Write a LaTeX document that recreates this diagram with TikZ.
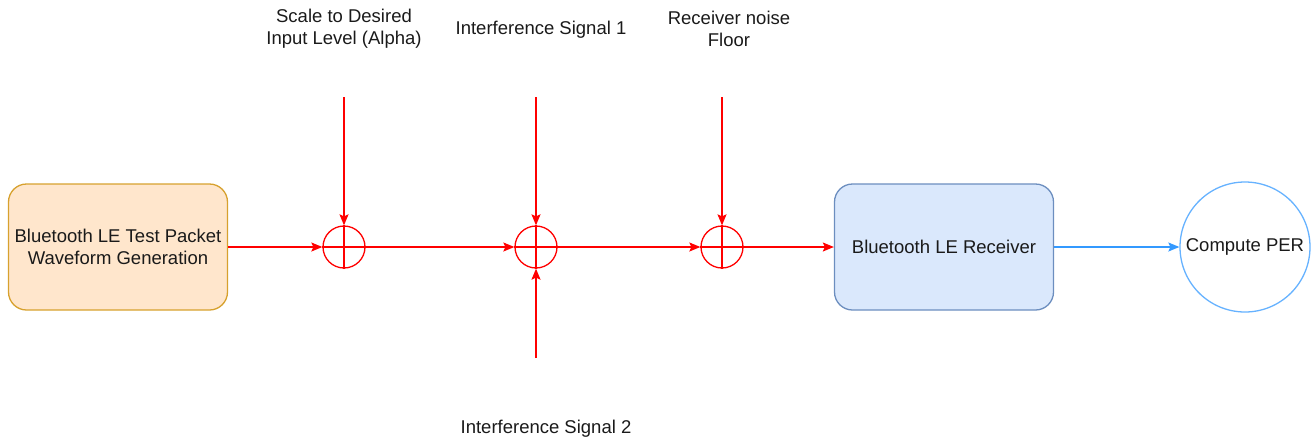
\documentclass[tikz,border=0pt]{standalone}
\usepackage{fontspec}
\setmainfont{Liberation Sans}
\usetikzlibrary{arrows.meta}
\definecolor{redline}{HTML}{FF0000}
\definecolor{orfill}{HTML}{FFE6CC}
\definecolor{ordraw}{HTML}{D7A12E}
\definecolor{blfill}{HTML}{DAE8FC}
\definecolor{bldraw}{HTML}{6C8EBF}
\definecolor{bllink}{HTML}{3399FF}
\definecolor{blcirc}{HTML}{66B2FF}
\definecolor{txt}{HTML}{1A1A1A}
\tikzset{
  block/.style={rounded corners=18, minimum width=219, minimum height=126, line width=1.3, align=center, inner sep=0},
  summer/.style={circle, draw=redline, line width=1.3, minimum size=42, inner sep=0},
  redarrow/.style={draw=redline, line width=1.3, -{Stealth[length=11, width=9, inset=2]}},
  bluearrow/.style={draw=bllink, line width=1.3, -{Stealth[length=11, width=9, inset=2]}},
  lbl/.style={align=center, inner sep=0, text=txt},
}
\begin{document}
\begin{tikzpicture}[x=1pt, y=-1pt, font=\fontsize{18.5}{22}\selectfont, text=txt]
\useasboundingbox (0,0) rectangle (1312,440);
\node[block, fill=orfill, draw=ordraw] (gen) at (118,247) {Bluetooth LE Test Packet\\Waveform Generation};
\node[block, fill=blfill, draw=bldraw] (rx) at (944,247) {Bluetooth LE Receiver};
\node[circle, draw=blcirc, line width=1.3, minimum size=130, inner sep=0] (per) at (1245,247) {Compute PER};
\node[summer] (s1) at (344,247) {};
\node[summer] (s2) at (536,247) {};
\node[summer] (s3) at (722,247) {};
\foreach \s in {s1,s2,s3}{
  \draw[redline, line width=1.3] (\s.north) -- (\s.south) (\s.west) -- (\s.east);
}
\coordinate (t1) at (344,97);
\coordinate (t2) at (536,97);
\coordinate (t3) at (722,97);
\coordinate (b2) at (536,358);
\node[lbl] (l1) at (344,29) {Scale to Desired\\Input Level (Alpha)};
\node[lbl] (l2) at (541,30) {Interference Signal 1};
\node[lbl] (l3) at (729,29) {Receiver noise\\Floor};
\node[lbl] (l4) at (546,429) {Interference Signal 2};
\draw[redarrow] (gen.east) -- (s1.west);
\draw[redarrow] (s1.east) -- (s2.west);
\draw[redarrow] (s2.east) -- (s3.west);
\draw[redarrow] (s3.east) -- (rx.west);
\draw[redarrow] (t1) -- (s1.north);
\draw[redarrow] (t2) -- (s2.north);
\draw[redarrow] (t3) -- (s3.north);
\draw[redarrow] (b2) -- (s2.south);
\draw[bluearrow] (rx.east) -- (per.west);
\end{tikzpicture}
\end{document}
